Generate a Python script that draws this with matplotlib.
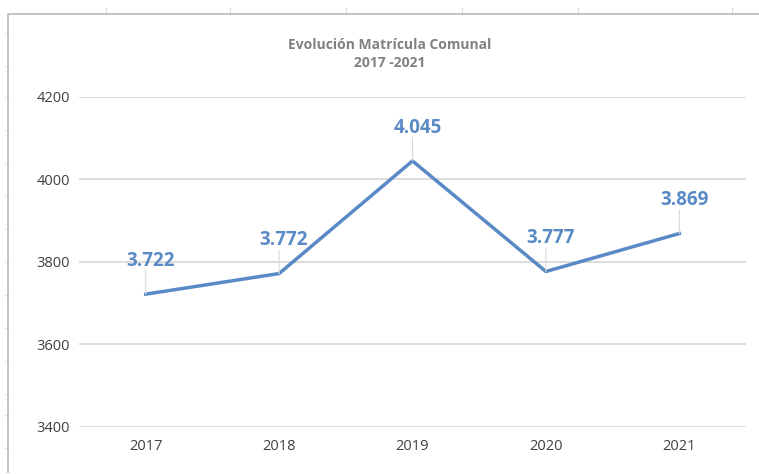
import matplotlib.pyplot as plt
from matplotlib.lines import Line2D

years = ["2017", "2018", "2019", "2020", "2021"]
enrollment = [3722, 3772, 4045, 3777, 3869]
value_labels = ["3.722", "3.772", "4.045", "3.777", "3.869"]
yticks = [3400, 3600, 3800, 4000, 4200]

blue = "#5a8ac6"
plt.rcParams['font.family'] = ['Open Sans', 'DejaVu Sans']

W, H = 759, 474
fig = plt.figure(figsize=(W / 100, H / 100), dpi=100)

# spreadsheet cell lines peeking around the chart box
for xc in [106, 230, 346, 462, 578, 732]:
    fig.add_artist(Line2D([xc / W, xc / W], [1 - 8 / H, 1 - 14 / H],
                          color="#d9d9d9", lw=0.8))
for yr in [33, 66, 97, 130, 163, 196, 229, 262, 295, 328, 361, 394, 415, 448]:
    fig.add_artist(Line2D([5 / W, 8 / W], [1 - yr / H, 1 - yr / H],
                          color="#e3e3e3", lw=0.8))
# chart area border
fig.add_artist(Line2D([8 / W, 8 / W, 1], [2 / H, 1 - 14 / H, 1 - 14 / H],
                      color="#bfbfbf", lw=1.3))

ax = fig.add_axes([79 / W, 1 - 427 / H, 667 / W, 330 / H])
x = list(range(len(years)))
ax.plot(x, enrollment, color=blue, lw=2.5)
ax.set_xlim(-0.5, 4.5)
ax.set_ylim(3400, 4200)
ax.set_yticks(yticks)
ax.set_xticks(x)
ax.set_xticklabels(years)
ax.yaxis.grid(True, color="#d9d9d9", lw=1.3)
ax.set_axisbelow(True)
for s in ax.spines.values():
    s.set_visible(False)
ax.tick_params(length=0, labelsize=10.5, colors="#404040")
ax.tick_params(axis="y", pad=6.5)
ax.tick_params(axis="x", pad=9)

# data labels with vertical leader lines
for xi, yi, txt in zip(x, enrollment, value_labels):
    ax.annotate("", xy=(xi, yi), xytext=(0, 17), textcoords="offset points",
                arrowprops=dict(arrowstyle="-", color="#d9d9d9", lw=0.8,
                                shrinkA=0, shrinkB=0))
    ax.annotate(txt, xy=(xi, yi), xytext=(3.5, 24), textcoords="offset points",
                ha="center", va="center", color=blue, fontsize=13.5,
                fontweight="bold")

fig.text(390 / W, 1 - 45 / H, "Evolución Matrícula Comunal", ha="center",
         va="center", fontsize=10, color="#808080", fontweight="bold")
fig.text(390 / W, 1 - 63 / H, "2017 -2021", ha="center", va="center",
         fontsize=10, color="#808080", fontweight="bold")

fig.savefig("out.png", dpi=100)
